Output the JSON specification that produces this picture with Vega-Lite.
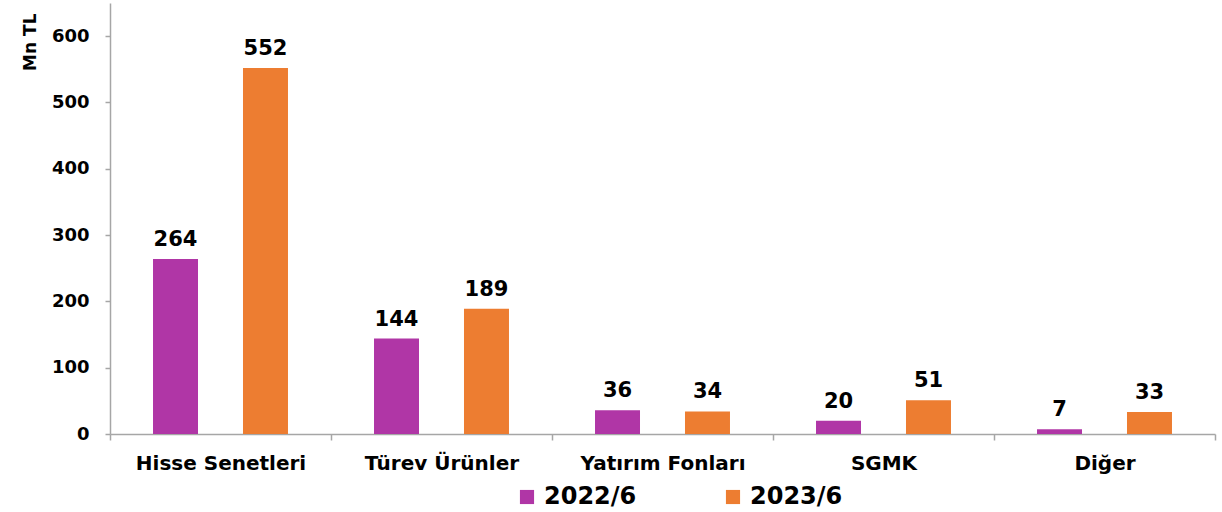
{
  "$schema": "https://vega.github.io/schema/vega-lite/v6.json",
  "width": 1105,
  "height": 431,
  "autosize": "none",
  "padding": {"left": 110, "top": 3, "right": 7, "bottom": 78},
  "background": "white",
  "config": {
    "view": {"stroke": null},
    "font": "DejaVu Sans"
  },
  "data": {
    "values": [
      {"kategori": "Hisse Senetleri", "donem": "2022/6", "deger": 264},
      {"kategori": "Hisse Senetleri", "donem": "2023/6", "deger": 552},
      {"kategori": "Türev Ürünler", "donem": "2022/6", "deger": 144},
      {"kategori": "Türev Ürünler", "donem": "2023/6", "deger": 189},
      {"kategori": "Yatırım Fonları", "donem": "2022/6", "deger": 36},
      {"kategori": "Yatırım Fonları", "donem": "2023/6", "deger": 34},
      {"kategori": "SGMK", "donem": "2022/6", "deger": 20},
      {"kategori": "SGMK", "donem": "2023/6", "deger": 51},
      {"kategori": "Diğer", "donem": "2022/6", "deger": 7},
      {"kategori": "Diğer", "donem": "2023/6", "deger": 33}
    ]
  },
  "encoding": {
    "x": {
      "field": "kategori",
      "type": "nominal",
      "sort": ["Hisse Senetleri", "Türev Ürünler", "Yatırım Fonları", "SGMK", "Diğer"],
      "scale": {"paddingInner": 0, "paddingOuter": 0},
      "axis": {
        "title": null,
        "labelAngle": 0,
        "labelFont": "DejaVu Sans",
        "labelFontWeight": "bold",
        "labelFontSize": 20,
        "labelColor": "black",
        "labelPadding": 13,
        "labelLimit": 300,
        "tickBand": "extent",
        "tickSize": 6,
        "tickColor": "#A6A6A6",
        "domainColor": "#A6A6A6",
        "domainWidth": 1.5,
        "tickWidth": 1.5
      }
    },
    "xOffset": {
      "field": "donem",
      "type": "nominal",
      "scale": {"paddingInner": 0.5, "paddingOuter": 0.478}
    },
    "y": {
      "field": "deger",
      "type": "quantitative",
      "scale": {"domain": [0, 650], "nice": false},
      "axis": {
        "values": [0, 100, 200, 300, 400, 500, 600],
        "title": "Mn TL",
        "titleFont": "DejaVu Sans",
        "titleFontWeight": "bold",
        "titleFontSize": 17,
        "titleColor": "black",
        "titleAnchor": "end",
        "titleAlign": "right",
        "titleBaseline": "middle",
        "titleX": -80,
        "titleY": 10,
        "titleAngle": -90,
        "grid": false,
        "labelFont": "DejaVu Sans",
        "labelFontWeight": "bold",
        "labelFontSize": 18,
        "labelColor": "black",
        "labelPadding": 16,
        "tickSize": 5,
        "tickColor": "#A6A6A6",
        "domainColor": "#A6A6A6",
        "domainWidth": 1.5,
        "tickWidth": 1.5
      }
    }
  },
  "layer": [
    {
      "mark": {"type": "bar"},
      "encoding": {
        "color": {
          "field": "donem",
          "type": "nominal",
          "scale": {"domain": ["2022/6", "2023/6"], "range": ["#B036A6", "#ED7D31"]},
          "legend": {
            "title": null,
            "orient": "none",
            "direction": "horizontal",
            "legendX": 405,
            "legendY": 482,
            "padding": 0,
            "symbolType": "square",
            "symbolSize": 200,
            "symbolStrokeWidth": 0,
            "labelFont": "DejaVu Sans",
            "labelFontWeight": "bold",
            "labelFontSize": 24,
            "labelColor": "black",
            "labelOffset": 5,
            "columnPadding": 84
          }
        }
      }
    },
    {
      "mark": {
        "type": "text",
        "baseline": "bottom",
        "dy": -9,
        "font": "DejaVu Sans",
        "fontWeight": "bold",
        "fontSize": 21,
        "color": "black"
      },
      "encoding": {
        "text": {"field": "deger", "type": "quantitative"}
      }
    }
  ]
}
